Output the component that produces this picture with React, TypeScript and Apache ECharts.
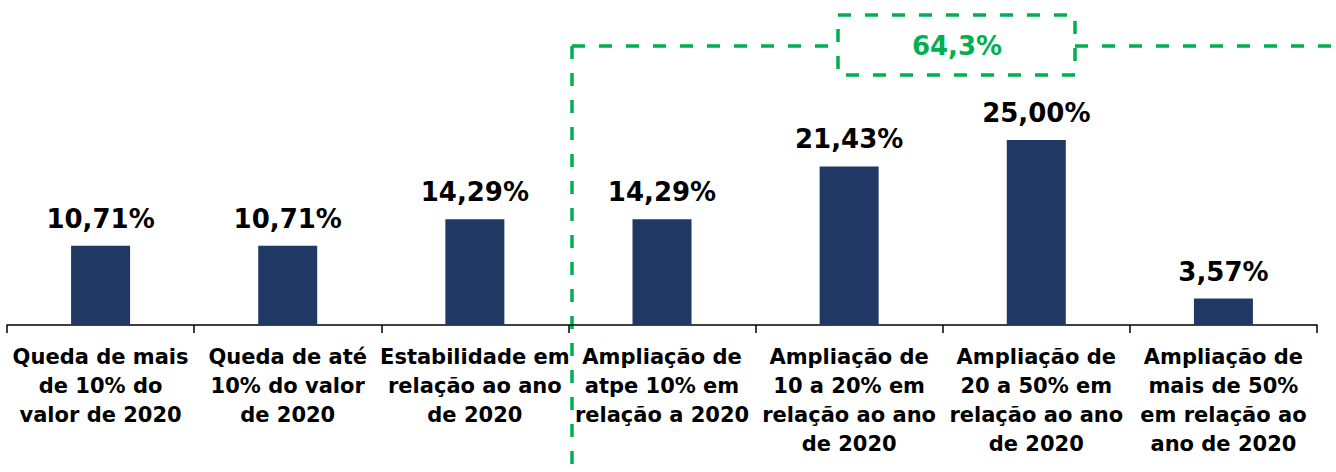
import React, { useEffect, useRef } from "react";
import * as echarts from "echarts";

const categories = [
  "Queda de mais\nde 10% do\nvalor de 2020",
  "Queda de até\n10% do valor\nde 2020",
  "Estabilidade em\nrelação ao ano\nde 2020",
  "Ampliação de\natpe 10% em\nrelação a 2020",
  "Ampliação de\n10 a 20% em\nrelação ao ano\nde 2020",
  "Ampliação de\n20 a 50% em\nrelação ao ano\nde 2020",
  "Ampliação de\nmais de 50%\nem relação ao\nano de 2020",
];
const values = [10.71, 10.71, 14.29, 14.29, 21.43, 25.0, 3.57];
const totalLabel = "64,3%";

const GREEN = "#00B050";
const FONT = "'DejaVu Sans', 'Liberation Sans', sans-serif";

export default function App() {
  const ref = useRef<HTMLDivElement>(null);
  useEffect(() => {
    if (!ref.current) return;
    const chart = echarts.init(ref.current, undefined, { renderer: "svg" });
    const dash = { stroke: GREEN, lineWidth: 3.5, lineDash: [13, 14] };
    chart.setOption({
      animation: false,
      grid: { left: 7, right: 19, top: 29, bottom: 147, containLabel: false },
      xAxis: {
        type: "category",
        data: categories,
        axisLine: { lineStyle: { color: "#000", width: 1.5 } },
        axisTick: { show: true, length: 8, lineStyle: { color: "#000", width: 1.5 } },
        axisLabel: {
          interval: 0,
          margin: 17,
          color: "#000",
          fontFamily: FONT,
          fontWeight: "bold",
          fontSize: 21,
          lineHeight: 29,
        },
      },
      yAxis: {
        type: "value",
        min: 0,
        max: 40,
        show: false,
        splitLine: { show: false },
      },
      series: [
        {
          type: "bar",
          data: values,
          barWidth: 59,
          itemStyle: { color: "#1F3864" },
          label: {
            show: true,
            position: "top",
            distance: 14,
            color: "#000",
            fontFamily: FONT,
            fontWeight: "bold",
            fontSize: 26,
            formatter: (p: any) => p.value.toFixed(2).replace(".", ",") + "%",
          },
        },
      ],
      graphic: [
        { type: "line", shape: { x1: 572, y1: 46, x2: 572, y2: 472 }, style: dash },
        { type: "line", shape: { x1: 572, y1: 46, x2: 838, y2: 46 }, style: dash },
        { type: "line", shape: { x1: 1075, y1: 46, x2: 1336, y2: 46 }, style: dash },
        { type: "rect", shape: { x: 838, y: 15, width: 237, height: 60 }, style: { ...dash, fill: "transparent" } },
        {
          type: "text",
          x: 957,
          y: 46,
          style: {
            text: totalLabel,
            fill: GREEN,
            font: `bold 26px ${FONT}`,
            textAlign: "center",
            textVerticalAlign: "middle",
          },
        },
      ],
    });
    return () => chart.dispose();
  }, []);
  return (
    <div
      ref={ref}
      style={{ position: "fixed", left: 0, top: 0, width: 1336, height: 472, background: "#fff" }}
    />
  );
}
